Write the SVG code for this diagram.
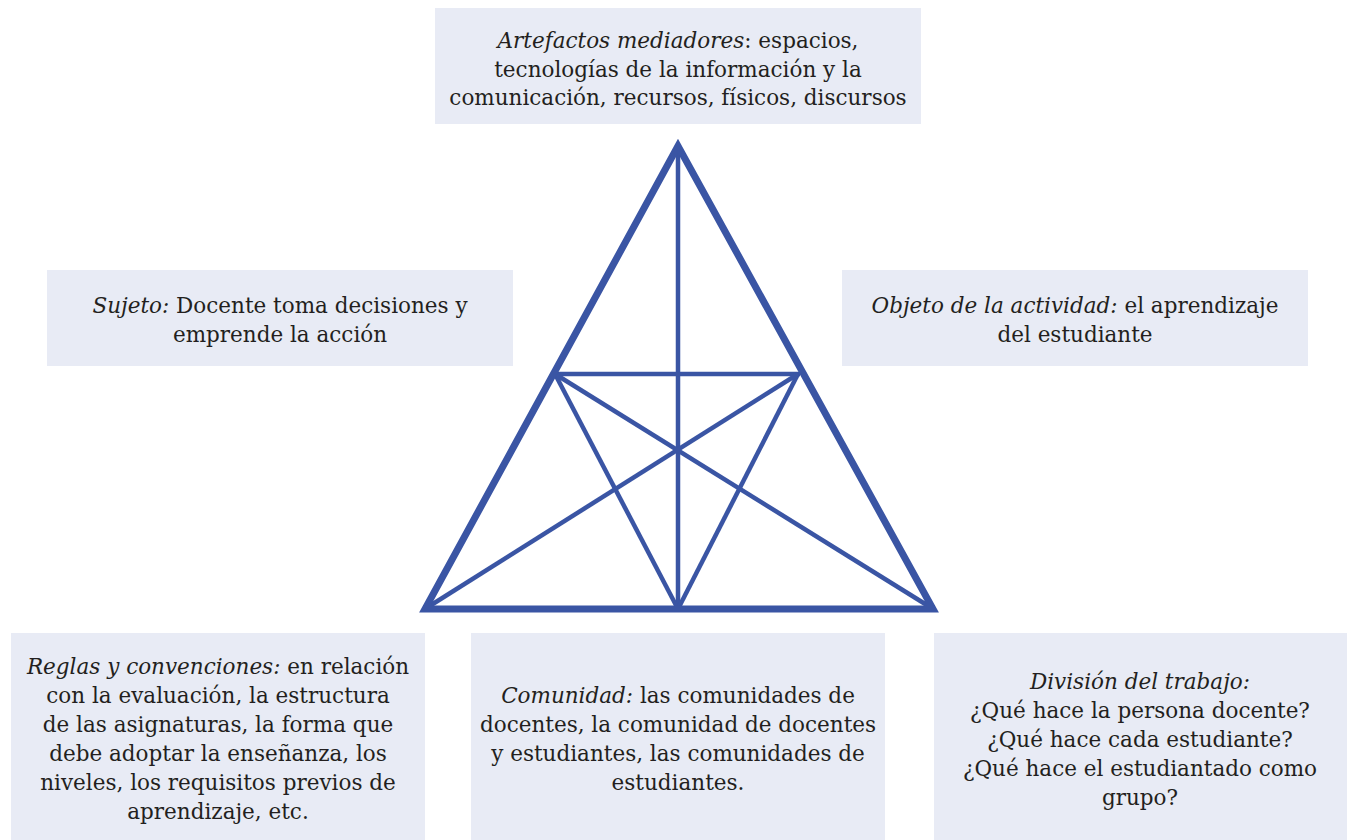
<svg xmlns="http://www.w3.org/2000/svg" width="1347" height="840" viewBox="0 0 1347 840">
<style>
.box{fill:#e8ebf5}
.t{font-family:'DejaVu Serif',serif;font-size:21.5px;fill:#231f20;text-anchor:middle}
.i{font-style:italic}
.outer{fill:none;stroke:#3a55a4;stroke-width:7;stroke-linejoin:miter;stroke-miterlimit:10}
.inner{fill:none;stroke:#3a55a4;stroke-width:4.5;stroke-linecap:butt}
</style>
<rect width="1347" height="840" fill="#ffffff"/>
<g id="artefactos">
<rect class="box" x="435" y="8" width="486" height="116"/>
<text class="t" x="678" y="48"><tspan class="i">Artefactos mediadores</tspan>: espacios,</text>
<text class="t" x="678" y="77">tecnologías de la información y la</text>
<text class="t" x="678" y="105">comunicación, recursos, físicos, discursos</text>
</g>
<g id="sujeto">
<rect class="box" x="47" y="270" width="466" height="96"/>
<text class="t" x="280" y="313"><tspan class="i">Sujeto:</tspan> Docente toma decisiones y</text>
<text class="t" x="280" y="342">emprende la acción</text>
</g>
<g id="objeto">
<rect class="box" x="842" y="270" width="466" height="96"/>
<text class="t" x="1075" y="313"><tspan class="i">Objeto de la actividad:</tspan> el aprendizaje</text>
<text class="t" x="1075" y="342">del estudiante</text>
</g>
<g id="reglas">
<rect class="box" x="11" y="633" width="414" height="207"/>
<text class="t" x="218" y="674"><tspan class="i">Reglas y convenciones:</tspan> en relación</text>
<text class="t" x="218" y="703">con la evaluación, la estructura</text>
<text class="t" x="218" y="732">de las asignaturas, la forma que</text>
<text class="t" x="218" y="761">debe adoptar la enseñanza, los</text>
<text class="t" x="218" y="790">niveles, los requisitos previos de</text>
<text class="t" x="218" y="819">aprendizaje, etc.</text>
</g>
<g id="comunidad">
<rect class="box" x="471" y="633" width="414" height="207"/>
<text class="t" x="678" y="703"><tspan class="i">Comunidad:</tspan> las comunidades de</text>
<text class="t" x="678" y="732">docentes, la comunidad de docentes</text>
<text class="t" x="678" y="761">y estudiantes, las comunidades de</text>
<text class="t" x="678" y="790">estudiantes.</text>
</g>
<g id="division">
<rect class="box" x="934" y="633" width="413" height="207"/>
<text class="t i" x="1140" y="689">División del trabajo:</text>
<text class="t" x="1140" y="718">¿Qué hace la persona docente?</text>
<text class="t" x="1140" y="747">¿Qué hace cada estudiante?</text>
<text class="t" x="1140" y="776">¿Qué hace el estudiantado como</text>
<text class="t" x="1140" y="805">grupo?</text>
</g>
<g id="connectors">
<line class="inner" x1="678" y1="148" x2="678" y2="609"/>
<line class="inner" x1="553" y1="374" x2="800" y2="374"/>
<line class="inner" x1="555" y1="374" x2="678" y2="609"/>
<line class="inner" x1="798" y1="374" x2="678" y2="609"/>
<line class="inner" x1="555" y1="374" x2="930" y2="607"/>
<line class="inner" x1="798" y1="374" x2="428" y2="607"/>
<polygon class="outer" points="678,146 425,609 933,609"/>
</g>
</svg>
